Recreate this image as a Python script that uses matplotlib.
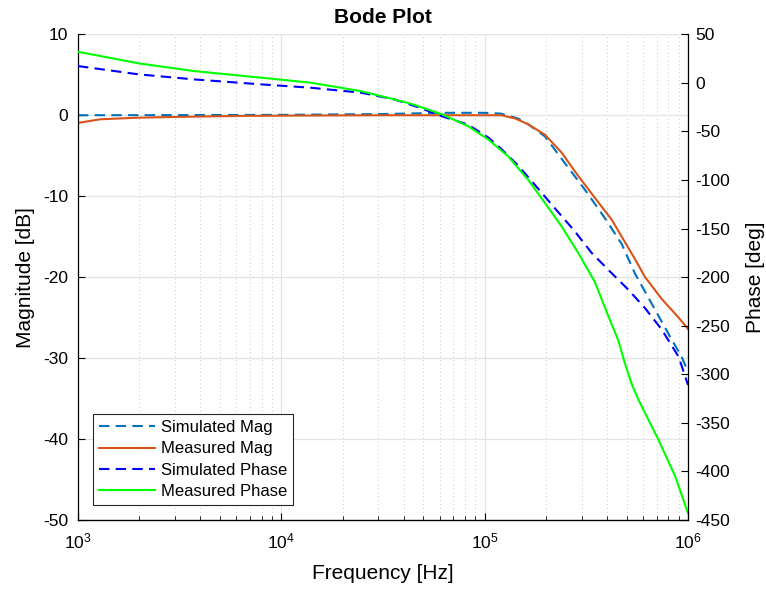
import matplotlib
matplotlib.use("Agg")
import matplotlib.pyplot as plt
from matplotlib.ticker import FixedLocator, FuncFormatter, LogLocator, NullFormatter

plt.rcParams['font.family'] = ['Liberation Sans', 'DejaVu Sans']
plt.rcParams['mathtext.fontset'] = 'custom'
plt.rcParams['mathtext.rm'] = 'Liberation Sans'

# log10(frequency) samples
sim_mag_logf = [3.0, 3.5, 4.0, 4.5, 4.8, 5.0, 5.08, 5.164, 5.213, 5.296, 5.394, 5.493,
                5.591, 5.674, 5.740, 5.822, 5.904, 5.970, 6.0]
sim_mag_db = [0.0, 0.02, 0.05, 0.15, 0.3, 0.3, 0.2, -0.4, -1.1, -2.6, -5.9, -9.2,
              -12.7, -15.9, -19.6, -23.3, -27.0, -29.9, -31.7]

meas_mag_logf = [3.0, 3.108, 3.297, 3.5, 3.8, 4.0, 4.5, 5.0, 5.082, 5.15, 5.213, 5.296,
                 5.378, 5.460, 5.542, 5.625, 5.674, 5.740, 5.789, 5.871, 5.954, 6.0]
meas_mag_db = [-0.95, -0.5, -0.3, -0.2, -0.08, -0.05, 0.0, 0.0, 0.0, -0.4, -1.1, -2.4,
               -4.6, -7.5, -10.2, -12.9, -15.0, -17.8, -20.0, -22.7, -25.0, -26.4]

sim_ph_logf = [3.0, 3.297, 3.569, 3.898, 4.145, 4.391, 4.556, 4.687, 4.770, 4.918, 5.016,
               5.082, 5.164, 5.247, 5.345, 5.444, 5.526, 5.625, 5.707, 5.789, 5.871,
               5.954, 6.0]
sim_ph_deg = [17.3, 8.8, 3.6, -1.5, -5.0, -10.1, -17.0, -26.0, -33.0, -43.0, -56.0,
              -68.0, -85.0, -105.0, -129.0, -153.0, -175.0, -196.0, -213.0, -232.0, -254.0,
              -282.0, -311.0]

meas_ph_logf = [3.0, 3.301, 3.569, 3.898, 4.145, 4.391, 4.556, 4.638, 4.786, 4.918, 5.016,
                5.115, 5.213, 5.296, 5.378, 5.460, 5.542, 5.608, 5.657, 5.690, 5.723,
                5.756, 5.789, 5.855, 5.937, 6.0]
meas_ph_deg = [32.0, 20.0, 12.2, 5.4, 0.2, -8.5, -17.0, -21.5, -32.0, -44.5, -58.0,
               -75.5, -99.5, -123.5, -147.6, -175.0, -205.0, -240.0, -265.0, -289.0, -310.0,
               -326.0, -340.0, -367.5, -405.0, -443.0]

legend_labels = ['Simulated Mag', 'Measured Mag', 'Simulated Phase', 'Measured Phase']
mag_ticks = [-50, -40, -30, -20, -10, 0, 10]
phase_ticks = [-450, -400, -350, -300, -250, -200, -150, -100, -50, 0, 50]

fig = plt.figure(figsize=(7.66, 5.90), dpi=100)
ax = fig.add_axes([78/766, 1 - 520/590, (688-78)/766, (520-34.3)/590])
ax2 = ax.twinx()

lw = 1.5
dash = (5, 3)
ax.plot([10**v for v in sim_mag_logf], sim_mag_db, color='#0072BD', lw=lw,
        dashes=dash, label=legend_labels[0])
ax.plot([10**v for v in meas_mag_logf], meas_mag_db, color='#D95319', lw=lw,
        label=legend_labels[1])
l3, = ax2.plot([10**v for v in sim_ph_logf], sim_ph_deg, color='#0000FF', lw=lw,
               dashes=dash, label=legend_labels[2])
l4, = ax2.plot([10**v for v in meas_ph_logf], meas_ph_deg, color='#00FF00', lw=lw,
               label=legend_labels[3])

ax.set_xscale('log')
ax.set_xlim(1e3, 1e6)
ax.set_ylim(-50, 10)
ax2.set_ylim(-450, 50)


def fmt(v, p):
    return '%d' % v


ax.yaxis.set_major_locator(FixedLocator(mag_ticks))
ax.yaxis.set_major_formatter(FuncFormatter(fmt))
ax2.yaxis.set_major_locator(FixedLocator(phase_ticks))
ax2.yaxis.set_major_formatter(FuncFormatter(fmt))
ax.xaxis.set_major_locator(LogLocator(base=10, numticks=10))
ax.xaxis.set_minor_locator(LogLocator(base=10, subs=range(2, 10), numticks=20))
ax.xaxis.set_minor_formatter(NullFormatter())

for a in (ax, ax2):
    a.tick_params(direction='in', labelsize=12.5, length=5, width=0.8, colors='black')
    a.tick_params(which='minor', direction='in', length=3, width=0.6)
ax.tick_params(axis='x', pad=8)
ax.tick_params(axis='y', pad=7)
ax2.tick_params(axis='y', pad=5.5)

ax.grid(True, which='major', axis='both', color='#e3e3e3', lw=0.9, ls='-')
ax.grid(True, which='minor', axis='x', color='#c8c8c8', lw=0.7, ls=(0, (1, 3)))
ax.set_axisbelow(True)

for a in (ax, ax2):
    a.spines['top'].set_visible(False)
ax.spines['right'].set_visible(False)
ax2.spines['left'].set_visible(False)
for s in ('left', 'bottom'):
    ax.spines[s].set_linewidth(0.9)
ax2.spines['right'].set_linewidth(0.9)

ax.set_xlabel('Frequency [Hz]', fontsize=15, labelpad=9)
ax.set_ylabel('Magnitude [dB]', fontsize=15, labelpad=6)
ax2.set_ylabel('Phase [deg]', fontsize=15, labelpad=11)
ax.set_title('Bode Plot', fontsize=15, fontweight='bold', pad=8)

h1, lb1 = ax.get_legend_handles_labels()
leg = ax2.legend(h1 + [l3, l4], lb1 + [l3.get_label(), l4.get_label()],
                 loc='lower left', bbox_to_anchor=(92.7/766, 1 - 505/590, 0.3, 0.2),
                 bbox_transform=fig.transFigure, fontsize=12, frameon=True,
                 fancybox=False, edgecolor='#262626', framealpha=1,
                 handlelength=3.4, handletextpad=0.35, labelspacing=0.38,
                 borderpad=0.35, borderaxespad=0)
leg.get_frame().set_linewidth(0.8)

fig.savefig('out.png', dpi=100)
